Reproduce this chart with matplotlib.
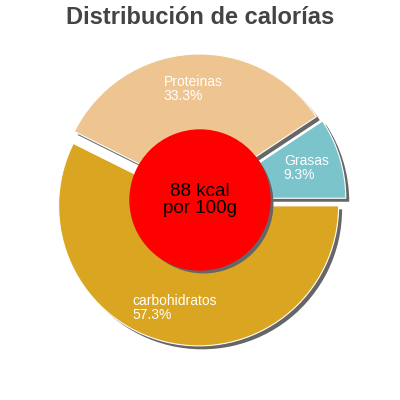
import matplotlib
matplotlib.use("Agg")
import matplotlib.pyplot as plt
from matplotlib.patches import Circle
import matplotlib.patheffects as pe
import numpy as np

labels = ["Grasas", "Proteinas", "carbohidratos"]
values = [9.3, 33.3, 57.3]
colors = ["#7bc4cc", "#eec591", "#daa520"]
title = "Distribución de calorías"
center_text = "88 kcal\npor 100g"

plt.rcParams['font.family'] = ['Liberation Sans', 'DejaVu Sans']

fig = plt.figure(figsize=(4, 4), dpi=100)
ax = fig.add_axes([0, 0, 1, 1])

cx, cy, R = 200, 200, 140
explode = [0.043 * R] * len(values)
shadow = [pe.SimplePatchShadow(offset=(2.5, -2.5), shadow_rgbFace='#666666', alpha=1.0), pe.Normal()]

wedges, _ = ax.pie(values, colors=colors, startangle=0, counterclock=True,
                   explode=explode, center=(cx, cy), radius=R,
                   wedgeprops=dict(linewidth=0.8, edgecolor='white'))
for w in wedges:
    w.set_path_effects(shadow)

ax.set_xlim(0, 400)
ax.set_ylim(0, 400)
ax.set_aspect('equal')
ax.axis('off')

total = sum(values)
start = 0.0
for lab, v, ex in zip(labels, values, explode):
    ang = np.deg2rad(start + 360 * v / total / 2)
    start += 360 * v / total
    rr = 0.75 * R + ex
    x = cx + rr * np.cos(ang)
    y = cy + rr * np.sin(ang)
    ax.text(x, y, f"{lab}\n{v:.1f}%", color='white', fontsize=10,
            ha='center', va='center', multialignment='left', linespacing=0.95)

c = Circle((cx, cy), 70, color='#ff0000', zorder=5)
c.set_path_effects(shadow)
ax.add_patch(c)
ax.text(cx, cy, center_text, ha='center', va='center', fontsize=13.5,
        color='black', zorder=6, linespacing=1.0)

ax.text(200, 383, title, ha='center', va='center', fontsize=17,
        fontweight='bold', color='#444444')

fig.savefig("out.png", dpi=100)
